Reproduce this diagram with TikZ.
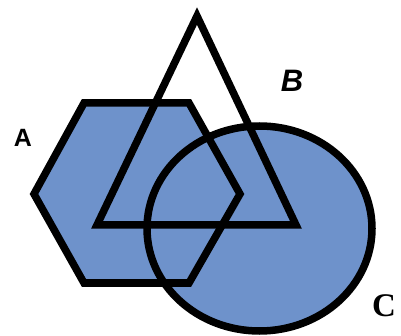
\documentclass[tikz,border=0pt]{standalone}
\usepackage{fontspec}
\setmainfont{Liberation Serif}
\setsansfont{Liberation Sans}
\usetikzlibrary{positioning}
\definecolor{mottle}{HTML}{6E92CB}

\begin{document}
\begin{tikzpicture}[x=1pt,y=-1pt,line width=7.5pt,line join=miter,
 shapeline/.style={draw=black},
 setlabel/.style={inner sep=0pt,font=\sffamily\bfseries\fontsize{25}{25}\selectfont}]
 \useasboundingbox (0,0) rectangle (401,336);
 % shaded sets A and C
 \fill[mottle] (84,103)--(189,103)--(240,194)--(189,283)--(84,283)--(34,194)--cycle;
 \fill[mottle] (259.5,228.5) ellipse (112.5 and 102.5);
 % outlines
 \draw[shapeline] (84,103)--(189,103)--(240,194)--(189,283)--(84,283)--(34,194)--cycle;
 \draw[shapeline] (197,16)--(296,225)--(97,225)--cycle;
 \draw[shapeline] (259.5,228.5) ellipse (112.5 and 102.5);
 % labels
 \node[setlabel] (labA) at (23,138) {A};
 \node[setlabel,font=\sffamily\bfseries\itshape\fontsize{31}{31}\selectfont] (labB) at (292,81) {B};
 \node[setlabel,font=\rmfamily\bfseries\fontsize{33}{33}\selectfont] (labC) at (384,306) {C};
\end{tikzpicture}
\end{document}
